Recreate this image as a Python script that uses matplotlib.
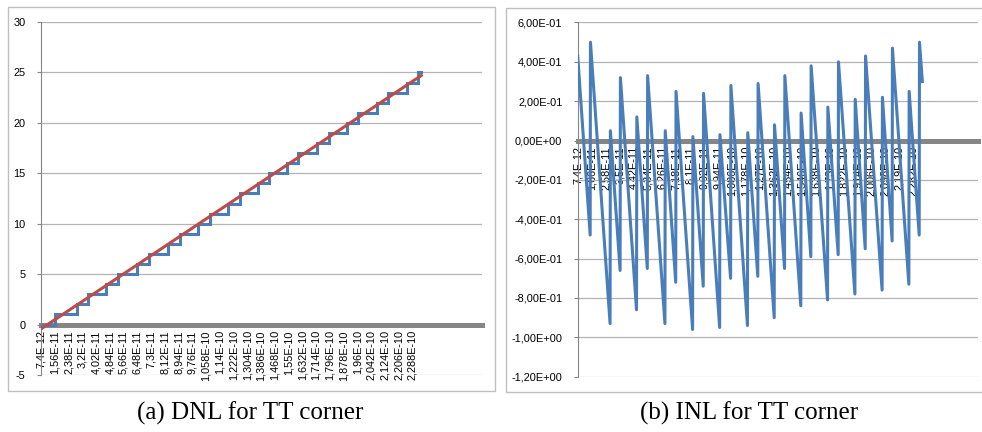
import matplotlib.pyplot as plt
from matplotlib.patches import Rectangle

# code transition points (ps)
t_code = [7.4, 15.7, 28.8, 35.4, 46.2, 53.3, 64.9, 72.0, 83.1, 90.1, 100.9, 108.1, 119.2,
          126.0, 136.8, 143.6, 154.3, 160.9, 171.9, 178.9, 189.9, 196.7, 207.8, 214.4,
          225.4, 232.2, 234.2]
codes = [0, 1, 2, 3, 4, 5, 6, 7, 8, 9, 10, 11, 12, 13, 14, 15, 16, 17, 18, 19, 20,
         21, 22, 23, 24, 25, 25]

# ideal line end points
ideal_x = [7.4, 234.2]
ideal_y = [-0.43, 24.7]

# INL vertices
inl_x = [7.4, 15.6, 15.8, 28.7, 28.9, 35.3, 35.5, 46.1, 46.3, 53.2, 53.4, 64.8, 65.0,
         71.9, 72.1, 83.0, 83.2, 90.0, 90.2, 100.8, 101.0, 108.0, 108.2, 119.1, 119.3,
         125.9, 126.1, 136.7, 136.9, 143.5, 143.7, 154.2, 154.4, 160.8, 161.0, 171.8,
         172.0, 178.8, 179.0, 189.8, 190.0, 196.6, 196.8, 207.7, 207.9, 214.3, 214.5,
         225.3, 225.5, 232.1, 232.3, 234.2]
inl_y = [0.43, -0.48, 0.50, -0.93, 0.05, -0.66, 0.32, -0.86, 0.12, -0.65, 0.33, -0.93, 0.05,
         -0.72, 0.25, -0.96, 0.02, -0.74, 0.24, -0.95, 0.03, -0.70, 0.28, -0.94, 0.04,
         -0.69, 0.29, -0.90, 0.08, -0.65, 0.33, -0.84, 0.14, -0.59, 0.38, -0.81,
         0.17, -0.58, 0.40, -0.78, 0.21, -0.55, 0.43, -0.76, 0.22, -0.51, 0.47,
         -0.73, 0.25, -0.48, 0.50, 0.30]

dnl_ticks = [7.4, 15.6, 23.8, 32.0, 40.2, 48.4, 56.6, 64.8, 73.0, 81.2, 89.4, 97.6, 105.8,
             114.0, 122.2, 130.4, 138.6, 146.8, 155.0, 163.2, 171.4, 179.6, 187.8, 196.0,
             204.2, 212.4, 220.6, 228.8]
dnl_labels = ['7,4E-12', '1,56E-11', '2,38E-11', '3,2E-11', '4,02E-11', '4,84E-11',
              '5,66E-11', '6,48E-11', '7,3E-11', '8,12E-11', '8,94E-11', '9,76E-11',
              '1,058E-10', '1,14E-10', '1,222E-10', '1,304E-10', '1,386E-10', '1,468E-10',
              '1,55E-10', '1,632E-10', '1,714E-10', '1,796E-10', '1,878E-10', '1,96E-10',
              '2,042E-10', '2,124E-10', '2,206E-10', '2,288E-10']
inl_ticks = [7.4, 16.6, 25.8, 35.0, 44.2, 53.4, 62.6, 71.8, 81.0, 90.2, 99.4, 108.6, 117.8,
             127.0, 136.2, 145.4, 154.6, 163.8, 173.0, 182.2, 191.4, 200.6, 209.8, 219.0,
             228.2]
inl_labels = ['7,4E-12', '1,66E-11', '2,58E-11', '3,5E-11', '4,42E-11', '5,34E-11',
              '6,26E-11', '7,18E-11', '8,1E-11', '9,02E-11', '9,94E-11', '1,086E-10',
              '1,178E-10', '1,27E-10', '1,362E-10', '1,454E-10', '1,546E-10', '1,638E-10',
              '1,73E-10', '1,822E-10', '1,914E-10', '2,006E-10', '2,098E-10', '2,19E-10',
              '2,282E-10']
inl_yticks = [-1.2, -1.0, -0.8, -0.6, -0.4, -0.2, 0.0, 0.2, 0.4, 0.6]
inl_ylabels = ['-1,20E+00', '-1,00E+00', '-8,00E-01', '-6,00E-01', '-4,00E-01', '-2,00E-01',
               '0,00E+00', '2,00E-01', '4,00E-01', '6,00E-01']

plt.rcParams['font.family'] = ['Liberation Sans', 'DejaVu Sans']
plt.rcParams['axes.unicode_minus'] = False
blue = '#4A7EBB'
red = '#BE4B48'

fig = plt.figure(figsize=(9.82, 4.32), dpi=100)

# chart borders
fig.patches.append(Rectangle((8 / 982, 1 - 390.7 / 432), 487 / 982, 383.4 / 432,
                             transform=fig.transFigure, fill=False, ec='#BFBFBF', lw=1))
fig.patches.append(Rectangle((505.7 / 982, 1 - 391.5 / 432), 0.49, 383.5 / 432,
                             transform=fig.transFigure, fill=False, ec='#BFBFBF', lw=1))

ax1 = fig.add_axes([41 / 982, 1 - 375 / 432, 440.7 / 982, 353 / 432])
ax2 = fig.add_axes([577.7 / 982, 1 - 376.7 / 432, 400.3 / 982, 354.2 / 432])


def excel_style(ax):
    ax.set_facecolor('none')
    for s in ['top', 'right']:
        ax.spines[s].set_visible(False)
    ax.spines['left'].set_color('#868686')
    ax.spines['left'].set_linewidth(0.8)
    ax.spines['bottom'].set_position(('data', 0))
    ax.spines['bottom'].set_color('#868686')
    ax.spines['bottom'].set_linewidth(3.6)
    ax.spines['bottom'].set_zorder(2)
    ax.grid(axis='y', color='#B3B3B3', lw=0.9)
    ax.set_axisbelow(True)
    ax.tick_params(axis='x', length=0, pad=4, labelsize=7.8, rotation=90)
    ax.tick_params(axis='y', length=3, color='#868686', pad=8, labelsize=7.9)


ax1.step(t_code, codes, where='post', color=blue, lw=2.2, zorder=3,
         solid_joinstyle='miter')
ax1.plot(ideal_x, ideal_y, color=red, lw=2.2, zorder=4)
ax1.set_xlim(7.4, 270.2)
ax1.set_ylim(-5, 30)
ax1.set_yticks([-5, 0, 5, 10, 15, 20, 25, 30])
ax1.set_xticks(dnl_ticks)
ax1.set_xticklabels(dnl_labels)
excel_style(ax1)

ax2.plot(inl_x, inl_y, color=blue, lw=2.2, zorder=3, solid_joinstyle='round')
ax2.set_xlim(7.4, 270.8)
ax2.set_ylim(-1.2, 0.6)
ax2.set_yticks(inl_yticks)
ax2.set_yticklabels(inl_ylabels)
ax2.set_xticks(inl_ticks)
ax2.set_xticklabels(inl_labels)
excel_style(ax2)

fig.text(250 / 982, 1 - 413 / 432, '(a) DNL for TT corner', ha='center', va='center',
         family='Liberation Serif', fontsize=18)
fig.text(749 / 982, 1 - 413 / 432, '(b) INL for TT corner', ha='center', va='center',
         family='Liberation Serif', fontsize=18)

fig.savefig('out.png', dpi=100)
